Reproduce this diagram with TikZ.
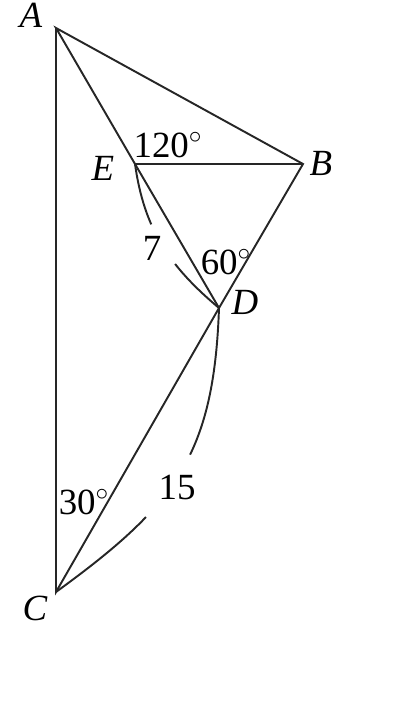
\documentclass[tikz,border=0pt]{standalone}
\usepackage{fontspec}
\setmainfont{Liberation Serif}
\begin{document}
\begin{tikzpicture}[x=0.02cm, y=0.02cm, line width=1.1pt, draw=black!85,
  vertex name/.style={font=\fontsize{21}{25}\selectfont\itshape, inner sep=0pt},
  angle text/.style={font=\fontsize{21}{25}\selectfont, inner sep=0pt},
  length text/.style={font=\fontsize{21}{25}\selectfont, inner sep=0pt}]

\useasboundingbox (0,0) rectangle (414,702);

\foreach \n/\x/\y in {A/56/674, B/303/538, E/135/538, D/219/394, C/56/110}
  \coordinate (\n) at (\x,\y);

\foreach \n/\x/\y in {A/31/687, E/103/534, B/321/539, D/245/400, C/35/94}
  \node [vertex name] (name-\n) at (\x,\y) {\n};

\draw (A) -- (C) -- (D) -- (B) -- (A) -- (E) -- (D);
\draw (E) -- (B);

\foreach \t/\x/\y in {120/168/557, 60/226/440, 30/84/200}
  \node [angle text] (angle-\t) at (\x,\y) {\t$^\circ$};

% length arcs, broken where the number sits
\draw [dash pattern=on 35.7pt off 26.4pt on 200pt] (E) to [out=-82, in=140] (D);
\draw [dash pattern=on 85.7pt off 43.7pt on 300pt] (D) to [out=-92, in=36, looseness=1.15] (C);

\node [length text] (length-ED) at (152,454) {7};
\node [length text] (length-DC) at (177,214) {15};

\end{tikzpicture}
\end{document}
